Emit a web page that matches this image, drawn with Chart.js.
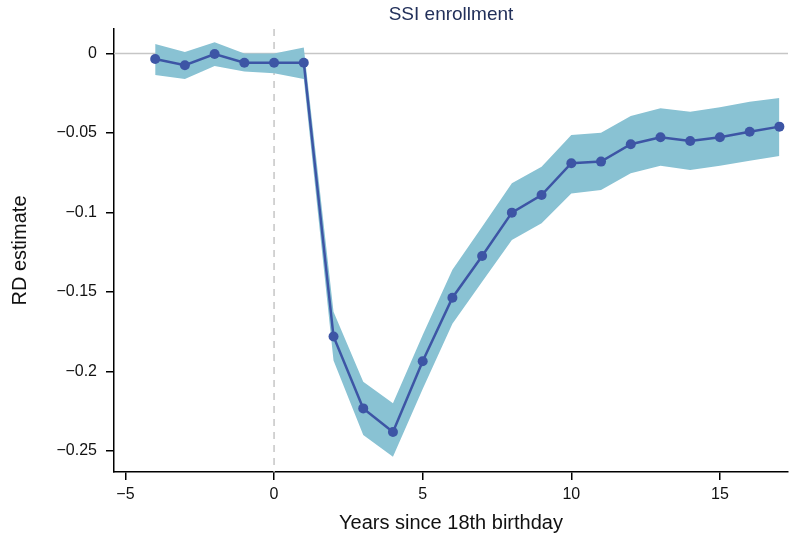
<!DOCTYPE html>
<html lang="en">
<head>
  <meta charset="UTF-8">
  <title>SSI enrollment</title>
  <script src="https://cdn.jsdelivr.net/npm/chart.js@4.4.1/dist/chart.umd.min.js"></script>
  <style>
    body { margin: 0; background: #fff; }
    #wrap { width: 793px; height: 538px; }
  </style>
</head>
<body>
  <div id="wrap"><canvas id="rdChart" width="793" height="538"></canvas></div>

  <script>
    // years since 18th birthday
    const years = [-4, -3, -2, -1, 0, 1, 2, 3, 4, 5, 6, 7, 8, 9, 10, 11, 12, 13, 14, 15, 16, 17];
    // RD point estimates
    const estimate = [-0.0035, -0.0074, -0.0003, -0.0058, -0.0058, -0.0058, -0.178, -0.2232, -0.238, -0.1935, -0.1536, -0.1274,
                      -0.1001, -0.089, -0.069, -0.068, -0.0571, -0.0527, -0.055, -0.0527, -0.0492, -0.046];
    // confidence band
    const upper = [0.006, 0.001, 0.007, 0.0, 0.0, 0.0037, -0.1624, -0.2064, -0.220, -0.177, -0.136, -0.109,
                   -0.0816, -0.0712, -0.0513, -0.0498, -0.0393, -0.0345, -0.0366, -0.0338, -0.0303, -0.028];
    const lower = [-0.0135, -0.016, -0.0079, -0.0114, -0.0125, -0.016, -0.193, -0.240, -0.2536, -0.211, -0.170, -0.1435,
                   -0.1173, -0.1068, -0.088, -0.0858, -0.0753, -0.0706, -0.0733, -0.0706, -0.0674, -0.0645];
    const xTicks = [-5, 0, 5, 10, 15];
    const yTicks = [0, -0.05, -0.1, -0.15, -0.2, -0.25];

    const toPts = arr => years.map((x, i) => ({ x: x, y: arr[i] }));
    const fmt = v => v === 0 ? '0' : (v < 0 ? '\u2212' : '') + String(Math.abs(v));

    const refLines = {
      id: 'refLines',
      beforeDatasetsDraw(chart) {
        const { ctx, chartArea, scales } = chart;
        const y0 = scales.y.getPixelForValue(0);
        const x0 = scales.x.getPixelForValue(0);
        ctx.save();
        ctx.strokeStyle = '#c6c6c6';
        ctx.lineWidth = 1.5;
        ctx.beginPath();
        ctx.moveTo(chartArea.left, y0);
        ctx.lineTo(chartArea.right, y0);
        ctx.stroke();
        ctx.setLineDash([7, 6]);
        ctx.beginPath();
        ctx.moveTo(x0, chartArea.top);
        ctx.lineTo(x0, chartArea.bottom);
        ctx.stroke();
        ctx.restore();
      },
      afterDraw(chart) {
        const { ctx, chartArea } = chart;
        ctx.save();
        ctx.fillStyle = '#22305a';
        ctx.font = '19px "Liberation Sans", Arial, sans-serif';
        ctx.textAlign = 'center';
        ctx.textBaseline = 'middle';
        ctx.fillText('SSI enrollment', (chartArea.left + chartArea.right) / 2, 15);
        ctx.restore();
      }
    };

    Chart.defaults.font.family = '"Liberation Sans", Arial, sans-serif';
    Chart.defaults.color = '#111';

    new Chart(document.getElementById('rdChart'), {
      type: 'line',
      data: {
        datasets: [
          { label: 'upper', data: toPts(upper), order: 2, borderWidth: 0, pointRadius: 0, fill: '+1', backgroundColor: '#89c2d3', tension: 0 },
          { label: 'lower', data: toPts(lower), order: 2, borderWidth: 0, pointRadius: 0, fill: false, tension: 0 },
          { label: 'RD estimate', data: toPts(estimate), order: 0, borderColor: '#3d55a5', borderWidth: 2.5,
            pointRadius: 5, pointBackgroundColor: '#3d55a5', pointBorderWidth: 0, fill: false, tension: 0 }
        ]
      },
      options: {
        responsive: false,
        animation: false,
        layout: { padding: { top: 29, right: 1, left: 0, bottom: 0 } },
        plugins: { legend: { display: false }, tooltip: { enabled: false } },
        scales: {
          x: {
            type: 'linear',
            min: -5.385,
            max: 17.29,
            afterBuildTicks: s => { s.ticks = xTicks.map(v => ({ value: v })); },
            afterFit: s => { s.height = 66; },
            ticks: { font: { size: 16 }, color: '#111', padding: 5, callback: v => fmt(v) },
            grid: { drawOnChartArea: false, drawTicks: true, tickLength: 8, color: '#000', lineWidth: 1.5 },
            border: { display: true, color: '#000', width: 1.5 },
            title: { display: true, text: 'Years since 18th birthday', font: { size: 20 }, color: '#111', padding: { top: 10, bottom: 3 } }
          },
          y: {
            min: -0.2632,
            max: 0.0154,
            afterBuildTicks: s => { s.ticks = yTicks.map(v => ({ value: v })); },
            afterFit: s => { s.width = 114; },
            ticks: { font: { size: 16 }, color: '#111', padding: 9, callback: v => fmt(v) },
            grid: { drawOnChartArea: false, drawTicks: true, tickLength: 8, color: '#000', lineWidth: 1.5 },
            border: { display: true, color: '#000', width: 1.5 },
            title: { display: true, text: 'RD estimate', font: { size: 20 }, color: '#111', padding: { top: 8, bottom: 0 } }
          }
        }
      },
      plugins: [refLines]
    });
  </script>
</body>
</html>
